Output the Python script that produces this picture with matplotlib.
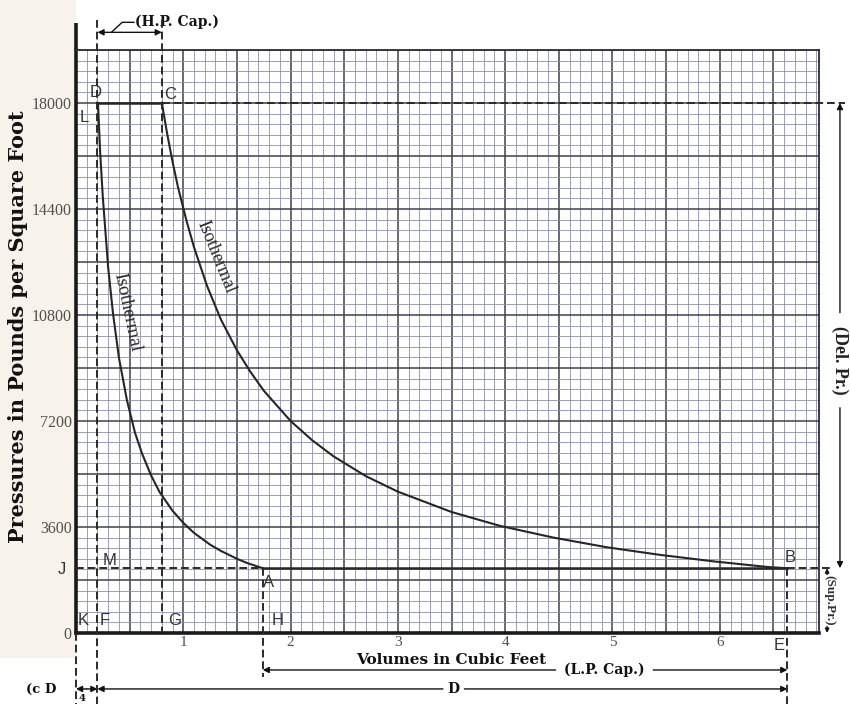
import matplotlib
matplotlib.use("Agg")
import matplotlib.pyplot as plt
from matplotlib.ticker import MultipleLocator, FuncFormatter
from matplotlib.patches import Rectangle

# ---------------- data ----------------
# upper isothermal C -> B (volume cu ft, pressure lb/sq ft)
iso_cb_v = [0.80, 0.85, 0.90, 0.95, 1.03, 1.10, 1.22, 1.35, 1.50, 1.62, 1.75, 2.00, 2.20,
            2.40, 2.70, 3.00, 3.50, 3.95, 4.45, 4.95, 5.45, 5.95, 6.45, 6.63]
iso_cb_p = [18000, 16950, 16000, 15150, 14000, 13100, 11800, 10650, 9600, 8900, 8230, 7200, 6550,
            6000, 5330, 4800, 4110, 3640, 3240, 2910, 2650, 2430, 2240, 2200]
# lower isothermal L -> A
iso_la_v = [0.205, 0.224, 0.25, 0.30, 0.345, 0.40, 0.475, 0.55, 0.615, 0.70, 0.78, 0.90,
            1.00, 1.10, 1.25, 1.35, 1.50, 1.60, 1.74]
iso_la_p = [18000, 16400, 14800, 12400, 10850, 9350, 7900, 6800, 6100, 5350, 4780, 4150,
            3740, 3400, 3000, 2790, 2520, 2370, 2200]

# key points
V_D, V_C, V_A, V_E = 0.20, 0.80, 1.74, 6.63
P_HIGH, P_LOW = 18000, 2200

y_tick_vals = [0, 3600, 7200, 10800, 14400, 18000]
x_tick_vals = [1, 2, 3, 4, 5, 6]

XMAX, YMAX = 6.92, 19800

# ---------------- figure ----------------
fig = plt.figure(figsize=(8.5, 7.04), dpi=100)
fig.patch.set_facecolor("white")
# beige tint of the scanned page on the left margin
fig.patches.append(Rectangle((0, (704 - 658) / 704), 76 / 850, 658 / 704,
                             transform=fig.transFigure, facecolor="#f7f3ea",
                             edgecolor="none", zorder=-5))

ax = fig.add_axes([76 / 850, (704 - 633) / 704, (818.5 - 76) / 850, (633 - 50) / 704])
ax.set_xlim(0, XMAX)
ax.set_ylim(0, YMAX)
ax.set_facecolor("white")

# graph paper grid
ax.xaxis.set_major_locator(MultipleLocator(0.5))
ax.xaxis.set_minor_locator(MultipleLocator(0.1))
ax.yaxis.set_major_locator(MultipleLocator(1800))
ax.yaxis.set_minor_locator(MultipleLocator(360))
ax.grid(which="minor", color="#8b90ad", lw=0.6)
ax.grid(which="major", color="#3e404c", lw=1.1)
ax.set_axisbelow(True)

ax.xaxis.set_major_formatter(FuncFormatter(
    lambda v, p: f"{int(round(v))}" if abs(v - round(v)) < 1e-6 and int(round(v)) in x_tick_vals else ""))
ax.yaxis.set_major_formatter(FuncFormatter(
    lambda v, p: f"{int(round(v))}" if int(round(v)) in y_tick_vals else ""))
ax.tick_params(which="both", length=0)
ax.tick_params(axis="x", pad=2, labelsize=11, labelcolor="#505050")
ax.tick_params(axis="y", pad=3, labelsize=11.5, labelcolor="#505050")
for lab in ax.get_xticklabels() + ax.get_yticklabels():
    lab.set_fontfamily("Liberation Serif")

for s in ["top", "right"]:
    ax.spines[s].set_color("#2d2d35")
    ax.spines[s].set_linewidth(1.3)
for s in ["left", "bottom"]:
    ax.spines[s].set_color("#1a1a1a")
    ax.spines[s].set_linewidth(2.6)
# left axis line extends above the grid
ax.plot([0, 0], [YMAX, 20720], color="#1a1a1a", lw=2.6, clip_on=False, solid_capstyle="butt")

ink = "#262626"
# cycle lines
ax.plot([V_D, V_C], [P_HIGH, P_HIGH], color=ink, lw=1.8, zorder=5)
ax.plot([V_A, V_E], [P_LOW, P_LOW], color=ink, lw=1.8, zorder=5)
ax.plot(iso_cb_v, iso_cb_p, color=ink, lw=1.5, zorder=5, solid_joinstyle="round")
ax.plot(iso_la_v, iso_la_p, color=ink, lw=1.5, zorder=5, solid_joinstyle="round")

# dashed construction lines
dash = dict(color="#2a2a2a", lw=1.4, ls=(0, (4, 2)), clip_on=False, zorder=4)
ax.plot([0, 0], [0, -2420], **dash)
ax.plot([V_D, V_D], [20820, -2420], **dash)
ax.plot([V_C, V_C], [20820, 0], **dash)
ax.plot([V_A, V_A], [P_LOW, -1500], **dash)
ax.plot([V_E, V_E], [P_LOW, -2420], **dash)
ax.plot([V_C, 7.17], [P_HIGH, P_HIGH], **dash)
ax.plot([0, V_A], [P_LOW, P_LOW], **dash)
ax.plot([V_E, 7.05], [P_LOW, P_LOW], **dash)

# point labels
lab_kw = dict(fontsize=12, color="#333333", family="Liberation Sans",
              ha="center", va="center", zorder=6)
points = {"D": (0.18, 18350), "C": (0.88, 18300), "L": (0.08, 17520),
          "B": (6.66, 2570), "E": (6.55, -410), "A": (1.79, 1700),
          "M": (0.31, 2450), "K": (0.07, 440), "F": (0.27, 440),
          "G": (0.92, 440), "H": (1.88, 440), "J": (-0.13, 2150)}
for k, (x, y) in points.items():
    ax.text(x, y, k, clip_on=False, **lab_kw)

# isothermal labels
iso_kw = dict(color="#2a2a2a", family="Liberation Serif",
              ha="center", va="center", rotation_mode="anchor", zorder=6)
ax.text(1.30, 12770, "Isothermal", rotation=-68, fontsize=13, **iso_kw)
ax.text(0.475, 10900, "Isothermal", rotation=-78, fontsize=13.5, **iso_kw)

# axis titles
ax.text(3.5, -930, "Volumes in Cubic Feet", fontsize=11, fontweight="bold",
        family="DejaVu Serif", ha="center", va="center", color="#111111", clip_on=False)
fig.text(18 / 850, 1 - 327 / 704, "Pressures in Pounds per Square Foot", rotation=90,
         fontsize=15, fontweight="bold", family="DejaVu Serif",
         ha="center", va="center", color="#111111")

bold_kw = dict(fontweight="bold", family="DejaVu Serif", color="#111111",
               va="center", clip_on=False)
arr = dict(arrowstyle="-|>", color="#111111", lw=1.0, mutation_scale=9,
           shrinkA=0, shrinkB=0)

# H.P. Cap.
ax.annotate("", xy=(V_D, 20400), xytext=(V_C, 20400), arrowprops=dict(arr, arrowstyle="<|-|>"),
            annotation_clip=False)
ax.plot([0.33, 0.43, 0.54], [20400, 20740, 20740], color="#111111", lw=1.0, clip_on=False)
ax.text(0.55, 20760, "(H.P. Cap.)", fontsize=10, ha="left", **bold_kw)

# L.P. Cap.
ax.annotate("", xy=(V_A, -1256), xytext=(4.47, -1256), arrowprops=arr, annotation_clip=False)
ax.annotate("", xy=(V_E, -1256), xytext=(5.38, -1256), arrowprops=arr, annotation_clip=False)
ax.text(4.92, -1256, "(L.P. Cap.)", fontsize=10, ha="center", **bold_kw)

# D
ax.annotate("", xy=(V_D, -1900), xytext=(3.42, -1900), arrowprops=arr, annotation_clip=False)
ax.annotate("", xy=(V_E, -1900), xytext=(3.62, -1900), arrowprops=arr, annotation_clip=False)
ax.text(3.52, -1900, "D", fontsize=10, ha="center", **bold_kw)

# clearance
ax.annotate("", xy=(0, -1900), xytext=(0.1, -1900), arrowprops=arr, annotation_clip=False)
ax.annotate("", xy=(V_D, -1900), xytext=(0.1, -1900), arrowprops=arr, annotation_clip=False)
ax.text(-0.32, -1920, "(c D", fontsize=9.5, ha="center", **bold_kw)
ax.text(0.06, -2230, "4", fontsize=7.5, ha="center", **bold_kw)

# Del. Pr.
ax.annotate("", xy=(7.12, P_HIGH), xytext=(7.12, 10880), arrowprops=arr, annotation_clip=False)
ax.annotate("", xy=(7.12, P_LOW), xytext=(7.12, 7650), arrowprops=arr, annotation_clip=False)
ax.text(7.12, 9270, "(Del. Pr.)", fontsize=13, rotation=-90, ha="center",
        fontweight="bold", family="Liberation Serif", color="#222222", va="center", clip_on=False)

# Sup. Pr.
ax.annotate("", xy=(7.0, P_LOW), xytext=(7.0, 1100), arrowprops=dict(arr, mutation_scale=6),
            annotation_clip=False)
ax.annotate("", xy=(7.0, 0), xytext=(7.0, 1100), arrowprops=dict(arr, mutation_scale=6),
            annotation_clip=False)
ax.text(7.02, 1100, "(Sup.Pr.)", fontsize=9.5, rotation=-90, ha="center",
        fontweight="bold", family="Liberation Serif", color="#333333", va="center",
        clip_on=False, bbox=dict(facecolor="white", edgecolor="none", pad=0.3))

fig.savefig("out.png", dpi=100)
